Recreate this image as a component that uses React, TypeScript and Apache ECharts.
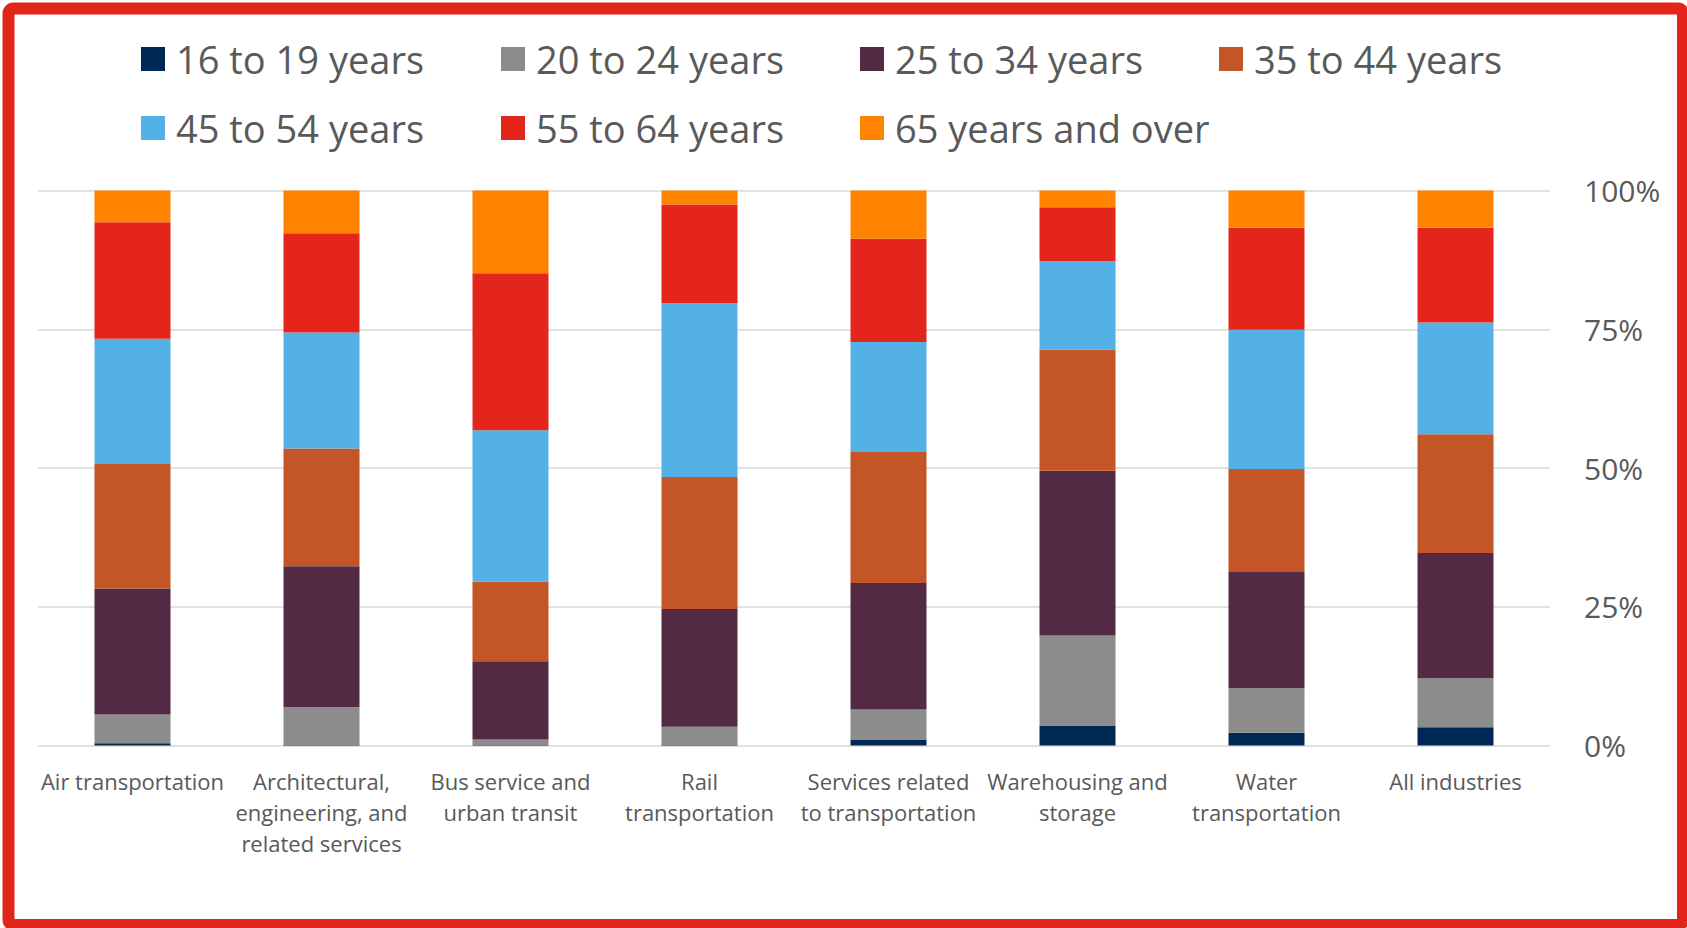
import React, { useEffect, useRef } from "react";
import * as echarts from "echarts";

// Industry categories (with the line breaks used on the axis)
const categories = [
  "Air transportation",
  "Architectural,\nengineering, and\nrelated services",
  "Bus service and\nurban transit",
  "Rail\ntransportation",
  "Services related\nto transportation",
  "Warehousing and\nstorage",
  "Water\ntransportation",
  "All industries",
];

// Share of employment by age group (%), one value per industry
const age16to19 = [0.4, 0.2, 0.1, 0.2, 1.1, 3.5, 2.3, 3.3];
const age20to24 = [5.2, 6.7, 1.0, 3.2, 5.4, 16.3, 8.0, 8.8];
const age25to34 = [22.7, 25.4, 14.1, 21.2, 22.8, 29.7, 21.1, 22.6];
const age35to44 = [22.4, 21.2, 14.3, 23.8, 23.6, 21.8, 18.4, 21.4];
const age45to54 = [22.6, 20.9, 27.3, 31.3, 19.8, 16.0, 25.1, 20.1];
const age55to64 = [21.0, 17.9, 28.3, 17.8, 18.6, 9.7, 18.4, 17.1];
const age65plus = [5.7, 7.7, 14.9, 2.5, 8.7, 3.0, 6.7, 6.7];

const seriesNames = [
  "16 to 19 years",
  "20 to 24 years",
  "25 to 34 years",
  "35 to 44 years",
  "45 to 54 years",
  "55 to 64 years",
  "65 years and over",
];
const seriesValues = [age16to19, age20to24, age25to34, age35to44, age45to54, age55to64, age65plus];
const seriesColors = ["#002855", "#8C8C8C", "#522A44", "#C45527", "#53B1E6", "#E4251C", "#FF8200"];

const yTicks = [0, 25, 50, 75, 100];

const FONT = "'Open Sans', 'Noto Sans', sans-serif";
const TEXT = "#595959";

// Legend laid out as a 4-column grid, two rows
const LEGEND_COLS = [141, 501, 860, 1219];
const LEGEND_ROWS = [40, 109];

export default function App() {
  const ref = useRef<HTMLDivElement>(null);

  useEffect(() => {
    if (!ref.current) return;
    const chart = echarts.init(ref.current, undefined, { renderer: "svg" });

    const legends = seriesNames.map((name, i) => ({
      left: LEGEND_COLS[i % 4],
      top: LEGEND_ROWS[Math.floor(i / 4)],
      padding: 0,
      itemWidth: 24,
      itemHeight: 24,
      icon: "rect",
      selectedMode: false,
      data: [name],
      textStyle: {
        fontFamily: FONT,
        fontSize: 38,
        lineHeight: 24,
        color: TEXT,
        padding: [0, 0, 0, 6],
      },
    }));

    chart.setOption({
      animation: false,
      backgroundColor: "#ffffff",
      textStyle: { fontFamily: FONT },
      legend: legends,
      grid: {
        left: 38,
        right: 137,
        top: 190.5,
        bottom: 182.5,
        containLabel: false,
      },
      xAxis: {
        type: "category",
        data: categories,
        axisLine: { show: false },
        axisTick: { show: false },
        axisLabel: {
          interval: 0,
          margin: 20,
          fontFamily: FONT,
          fontSize: 22,
          lineHeight: 31,
          color: TEXT,
          align: "center",
        },
      },
      yAxis: {
        type: "value",
        position: "right",
        min: 0,
        max: 100,
        interval: 25,
        axisLine: { show: false },
        axisTick: { show: false },
        splitLine: { lineStyle: { color: "#D9D9D9", width: 1.5 } },
        axisLabel: {
          margin: 34,
          fontFamily: FONT,
          fontSize: 30,
          color: TEXT,
          formatter: (v: number) => (yTicks.includes(v) ? `${v}%` : ""),
        },
      },
      series: seriesNames.map((name, i) => ({
        name,
        type: "bar",
        stack: "total",
        barWidth: 76,
        data: seriesValues[i],
        itemStyle: { color: seriesColors[i] },
      })),
      graphic: [
        {
          type: "rect",
          silent: true,
          z: 100,
          shape: { x: 8.5, y: 8.5, width: 1674.5, height: 916.5, r: 5 },
          style: { fill: "none", stroke: "#E3241B", lineWidth: 12 },
        },
      ],
    });

    return () => chart.dispose();
  }, []);

  return (
    <div
      ref={ref}
      style={{ position: "fixed", left: 0, top: 0, width: 1687, height: 928 }}
    />
  );
}
